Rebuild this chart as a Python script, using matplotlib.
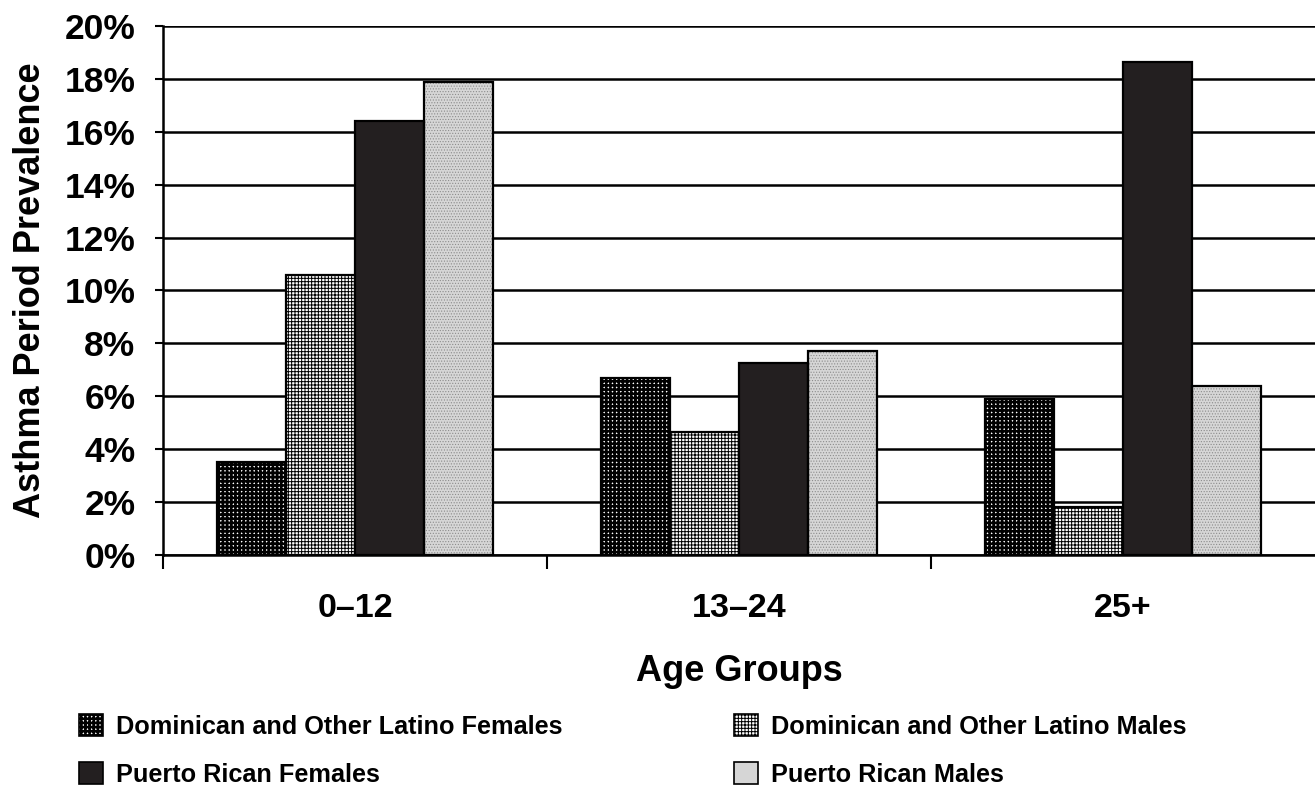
import matplotlib.pyplot as plt
import matplotlib.patches as mpatches
from matplotlib.ticker import FuncFormatter

plt.rcParams["font.family"] = ["Liberation Sans", "DejaVu Sans"]
plt.rcParams["font.weight"] = "bold"

age_groups = ["0\u201312", "13\u201324", "25+"]
series_names = [
    "Dominican and Other Latino Females",
    "Dominican and Other Latino Males",
    "Puerto Rican Females",
    "Puerto Rican Males",
]
dom_females = [3.5, 6.7, 5.9]
dom_males = [10.6, 4.65, 1.8]
pr_females = [16.4, 7.25, 18.65]
pr_males = [17.9, 7.7, 6.4]
y_ticks = [0, 2, 4, 6, 8, 10, 12, 14, 16, 18, 20]

fig = plt.figure(figsize=(13.15, 7.87), dpi=100)
ax = fig.add_axes([0.124, 0.295, 0.876, 0.672])

x = range(len(age_groups))
width = 0.181
offsets = [-0.27, -0.09, 0.09, 0.27]
values = [dom_females, dom_males, pr_females, pr_males]

styles = [
    dict(facecolor="white", hatch="++++", hatch_lw=1.9),
    dict(facecolor="white", hatch="+++++", hatch_lw=0.7),
    dict(facecolor="#231f20", hatch=None, hatch_lw=None),
    dict(facecolor="#d6d6d6", hatch="......", hatch_lw=0.5),
]


def set_hatch_lw(patch, lw):
    if lw is not None and hasattr(patch, "set_hatch_linewidth"):
        patch.set_hatch_linewidth(lw)


ax.set_axisbelow(True)
ax.yaxis.grid(True, color="black", linewidth=1.8)

for vals, off, st in zip(values, offsets, styles):
    xs = [i + off for i in x]
    if st["hatch"] is not None:
        hatch_edge = "#8c8c8c" if st["facecolor"] != "white" else "black"
        layer = ax.bar(xs, vals, width, color=st["facecolor"], edgecolor=hatch_edge,
                       hatch=st["hatch"], linewidth=0, zorder=2)
        for p in layer:
            set_hatch_lw(p, st["hatch_lw"])
        ax.bar(xs, vals, width, facecolor="none", edgecolor="black",
               linewidth=1.6, zorder=3)
    else:
        ax.bar(xs, vals, width, color=st["facecolor"], edgecolor="black",
               linewidth=1.6, zorder=3)

ax.set_xlim(-0.5, 2.5)
ax.set_ylim(0, 20)
ax.set_yticks(y_ticks)
ax.yaxis.set_major_formatter(FuncFormatter(lambda v, pos: f"{v:.0f}%"))
ax.tick_params(axis="y", labelsize=25.5, length=6, width=1.5, pad=14)

# boundaries between age groups get the ticks, labels sit at the centres
ax.set_xticks([-0.5, 0.5, 1.5])
ax.set_xticklabels([])
ax.set_xticks(list(x), minor=True)
ax.set_xticklabels(age_groups, minor=True)
ax.tick_params(axis="x", which="major", length=10, width=1.5, direction="out")
ax.tick_params(axis="x", which="minor", length=0, labelsize=24.5, pad=27.5)

for side in ["top", "right"]:
    ax.spines[side].set_visible(False)
ax.spines["left"].set_linewidth(1.8)
ax.spines["bottom"].set_linewidth(1.8)

ax.set_ylabel("Asthma Period Prevalence", fontsize=26, fontweight="bold")
ax.yaxis.set_label_coords(-0.1, 0.5)
ax.set_xlabel("Age Groups", fontsize=26, fontweight="bold")
ax.xaxis.set_label_coords(0.5, -0.187)

legend_handles = []
for st in styles:
    patch = mpatches.Patch(facecolor=st["facecolor"], edgecolor="black",
                           hatch=st["hatch"] if st["facecolor"] == "white" else None,
                           linewidth=1.2)
    legend_handles.append(patch)

order = [0, 2, 1, 3]
leg = fig.legend(
    [legend_handles[i] for i in order],
    [series_names[i] for i in order],
    loc="center left",
    bbox_to_anchor=(0.043, 0.0465),
    ncol=2,
    frameon=False,
    fontsize=18.2,
    handlelength=0.95,
    handleheight=0.95,
    handletextpad=0.52,
    columnspacing=6.77,
    labelspacing=0.94,
)
for t in leg.get_texts():
    t.set_fontweight("bold")
for h, i in zip(leg.legend_handles, order):
    set_hatch_lw(h, styles[i]["hatch_lw"])

fig.savefig("out.png", dpi=100)
